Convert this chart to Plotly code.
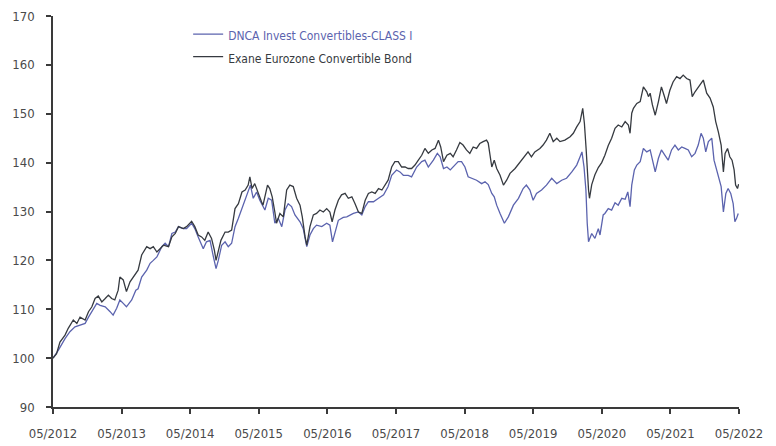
import plotly.graph_objects as go

# ---- Data ----
exane_dates = [
    "2012-05-01","2012-05-20","2012-06-07","2012-07-04","2012-07-21","2012-08-17","2012-09-05","2012-09-22",
    "2012-10-19","2012-11-06","2012-11-24","2012-12-11","2012-12-28","2013-01-16","2013-02-03","2013-02-20",
    "2013-03-09","2013-03-26","2013-04-13","2013-04-22","2013-05-10","2013-05-27","2013-06-15","2013-07-11",
    "2013-07-28","2013-08-16","2013-09-12","2013-09-30","2013-10-17","2013-11-05","2013-11-22","2013-12-10",
    "2014-01-06","2014-01-24","2014-02-11","2014-02-28","2014-03-25","2014-04-12","2014-05-09","2014-05-26",
    "2014-06-13","2014-07-01","2014-07-18","2014-08-05","2014-08-23","2014-09-07","2014-09-16","2014-09-28",
    "2014-10-12","2014-11-03","2014-11-20","2014-12-08","2014-12-26","2015-01-13","2015-02-01","2015-02-18",
    "2015-03-06","2015-03-15","2015-03-27","2015-04-10","2015-04-28","2015-05-16","2015-05-24","2015-06-07",
    "2015-06-17","2015-06-29","2015-07-12","2015-07-26","2015-08-04","2015-08-22","2015-09-09","2015-09-27",
    "2015-10-14","2015-11-01","2015-11-19","2015-12-07","2015-12-19","2016-01-03","2016-01-12","2016-01-29",
    "2016-02-16","2016-03-04","2016-03-22","2016-04-09","2016-04-27","2016-05-14","2016-05-26","2016-06-10",
    "2016-06-28","2016-07-15","2016-08-03","2016-08-20","2016-09-08","2016-09-25","2016-10-13","2016-10-31",
    "2016-11-18","2016-12-05","2016-12-23","2017-01-10","2017-01-28","2017-02-15","2017-03-03","2017-03-20",
    "2017-04-08","2017-04-25","2017-05-13","2017-05-31","2017-06-18","2017-07-05","2017-07-23","2017-08-10",
    "2017-08-28","2017-09-15","2017-10-02","2017-10-20","2017-11-08","2017-11-25","2017-12-13","2017-12-25",
    "2018-01-09","2018-01-27","2018-02-14","2018-03-01","2018-03-19","2018-04-06","2018-04-23","2018-05-11",
    "2018-05-29","2018-06-16","2018-07-04","2018-07-21","2018-08-08","2018-08-26","2018-09-04","2018-09-14",
    "2018-09-23","2018-10-06","2018-10-19","2018-11-06","2018-11-24","2018-12-11","2018-12-29","2019-01-25",
    "2019-02-21","2019-03-17","2019-04-04","2019-04-22","2019-05-10","2019-06-06","2019-06-23","2019-07-11",
    "2019-07-29","2019-08-16","2019-09-04","2019-09-21","2019-10-17","2019-11-14","2019-12-01","2019-12-19",
    "2020-01-06","2020-01-20","2020-01-29","2020-02-07","2020-02-13","2020-02-20","2020-02-25","2020-03-08",
    "2020-03-25","2020-04-12","2020-04-30","2020-05-17","2020-06-04","2020-06-22","2020-07-10","2020-07-27",
    "2020-08-15","2020-09-02","2020-09-19","2020-09-28","2020-10-07","2020-10-16","2020-11-03","2020-11-21",
    "2020-12-08","2020-12-26","2021-01-04","2021-01-13","2021-01-25","2021-02-09","2021-02-26","2021-03-14",
    "2021-03-28","2021-04-10","2021-04-28","2021-05-15","2021-06-03","2021-06-21","2021-07-08","2021-07-26",
    "2021-08-13","2021-08-25","2021-09-09","2021-09-26","2021-10-11","2021-10-23","2021-11-10","2021-11-28",
    "2021-12-15","2021-12-28","2022-01-11","2022-01-26","2022-02-07","2022-02-16","2022-03-01","2022-03-13",
    "2022-03-25","2022-04-05","2022-04-13","2022-04-23","2022-04-29",
]
exane_values = [
    100.0,100.9,103.3,104.7,106.1,107.8,107.1,108.4,
    107.8,109.5,110.5,112.2,112.7,111.5,112.2,112.9,
    112.2,111.9,113.9,116.6,116.0,113.6,115.6,117.0,
    118.0,121.1,122.8,122.4,122.8,121.7,122.4,123.1,
    122.8,124.8,125.5,126.9,126.5,126.9,128.0,126.9,
    125.2,124.8,124.1,125.8,124.5,122.1,120.0,121.7,
    124.1,125.8,125.8,126.2,130.6,131.6,134.0,134.4,
    135.4,137.1,134.7,135.7,133.7,132.0,131.3,133.7,
    135.4,134.7,133.0,129.9,127.6,129.6,128.9,134.4,
    135.4,135.1,132.7,131.3,128.9,124.8,123.1,126.9,
    129.3,129.6,130.3,129.9,130.6,129.9,127.9,130.3,
    132.3,133.4,133.7,132.7,133.0,131.6,129.9,129.6,
    132.3,133.7,134.0,133.7,134.7,134.4,135.4,136.4,
    139.1,140.2,140.2,139.1,139.1,138.8,138.8,139.5,
    140.5,141.5,142.9,141.9,142.6,142.9,144.6,143.2,
    140.2,141.5,141.9,141.2,142.6,144.1,143.6,142.6,
    141.9,143.2,142.9,143.9,144.3,144.6,144.0,141.2,
    139.1,140.5,138.8,137.4,135.4,136.4,137.8,138.8,
    140.2,141.5,142.2,141.2,142.2,142.9,143.6,144.6,
    146.0,144.3,145.0,144.3,144.6,145.3,146.0,147.3,
    148.4,151.1,148.0,142.9,138.5,134.4,132.7,135.5,
    137.5,139.0,140.0,141.5,143.5,145.0,147.0,147.7,
    147.3,148.4,147.7,146.0,150.1,151.1,152.1,152.5,
    155.5,154.5,153.5,154.2,151.8,149.7,152.5,155.5,
    153.8,152.1,154.8,156.5,157.6,157.2,157.9,157.2,
    156.9,153.5,154.5,155.5,156.2,156.9,154.2,153.2,
    151.4,148.4,146.3,143.6,138.1,141.9,142.9,141.2,
    140.5,138.5,135.4,134.7,135.6,
]

dnca_dates = [
    "2012-05-01","2012-05-29","2012-07-04","2012-07-30","2012-08-26","2012-09-22","2012-10-19","2012-11-06",
    "2012-11-24","2012-12-20","2013-01-07","2013-02-03","2013-03-01","2013-03-17","2013-04-05","2013-04-22",
    "2013-05-10","2013-05-27","2013-06-24","2013-07-16","2013-07-28","2013-08-16","2013-09-12","2013-09-30",
    "2013-10-17","2013-11-05","2013-12-01","2013-12-19","2014-01-06","2014-01-24","2014-02-11","2014-02-28",
    "2014-03-25","2014-04-12","2014-05-09","2014-05-26","2014-06-13","2014-07-10","2014-07-27","2014-08-15",
    "2014-09-02","2014-09-16","2014-09-28","2014-10-16","2014-11-03","2014-11-20","2014-12-08","2014-12-26",
    "2015-01-13","2015-02-01","2015-02-18","2015-03-06","2015-03-18","2015-04-02","2015-04-20","2015-05-07",
    "2015-06-03","2015-06-21","2015-07-09","2015-07-26","2015-08-13","2015-09-01","2015-09-18","2015-10-05",
    "2015-10-23","2015-11-10","2015-12-07","2015-12-24","2016-01-12","2016-01-29","2016-02-16","2016-03-04",
    "2016-04-01","2016-04-27","2016-05-14","2016-05-28","2016-06-10","2016-06-28","2016-07-24","2016-08-12",
    "2016-09-16","2016-10-13","2016-10-31","2016-11-18","2016-12-05","2017-01-01","2017-01-28","2017-02-24",
    "2017-03-20","2017-04-08","2017-05-04","2017-05-22","2017-06-09","2017-07-05","2017-07-23","2017-08-19",
    "2017-09-15","2017-10-02","2017-10-20","2017-11-16","2017-12-07","2017-12-22","2018-01-09","2018-01-27",
    "2018-02-14","2018-03-01","2018-03-28","2018-04-15","2018-05-03","2018-05-20","2018-06-08","2018-07-04",
    "2018-07-31","2018-08-18","2018-09-04","2018-09-23","2018-10-06","2018-10-19","2018-11-06","2018-11-29",
    "2018-12-20","2019-01-16","2019-02-12","2019-03-09","2019-03-26","2019-04-14","2019-05-01","2019-05-19",
    "2019-06-15","2019-07-11","2019-08-08","2019-09-04","2019-09-30","2019-10-26","2019-11-23","2019-12-19",
    "2020-01-06","2020-01-16","2020-01-27","2020-02-06","2020-02-13","2020-02-20","2020-03-08","2020-03-25",
    "2020-04-12","2020-04-21","2020-05-08","2020-05-17","2020-06-04","2020-06-22","2020-07-10","2020-07-27",
    "2020-08-15","2020-09-02","2020-09-16","2020-09-28","2020-10-07","2020-10-21","2020-11-03","2020-11-21",
    "2020-12-08","2020-12-26","2021-01-13","2021-01-25","2021-02-09","2021-02-26","2021-03-14","2021-04-02",
    "2021-04-19","2021-05-07","2021-05-25","2021-06-12","2021-06-30","2021-07-17","2021-08-04","2021-08-22",
    "2021-09-09","2021-09-26","2021-10-11","2021-10-23","2021-11-05","2021-11-19","2021-12-07","2021-12-19",
    "2021-12-30","2022-01-11","2022-01-26","2022-02-07","2022-02-20","2022-03-04","2022-03-18","2022-03-31",
    "2022-04-09","2022-04-18","2022-04-27",
]
dnca_values = [
    100.0,101.6,104.0,105.4,106.4,106.7,107.1,108.4,
    109.5,111.2,110.8,110.5,109.5,108.8,110.2,111.9,
    111.2,110.5,111.9,113.9,114.2,116.6,118.0,119.4,
    120.0,120.7,122.8,123.5,122.8,125.5,125.8,126.9,
    126.5,126.5,127.6,126.5,124.8,122.4,123.8,124.1,
    120.7,118.3,120.0,123.1,123.8,122.8,123.5,126.9,
    128.6,130.6,132.3,133.7,135.4,132.7,134.0,132.3,
    130.3,132.7,132.3,127.6,128.6,126.9,130.3,131.6,
    131.0,129.3,127.9,126.5,122.8,125.2,126.5,127.2,
    126.9,127.6,127.2,123.8,125.8,128.2,128.8,128.9,
    129.6,129.9,129.3,131.0,132.0,132.0,132.7,133.4,
    135.1,137.4,138.5,138.1,137.4,137.4,137.1,139.1,
    140.2,140.5,139.1,140.5,141.9,141.2,138.8,139.1,
    138.5,139.1,140.2,140.2,139.1,137.1,136.8,136.4,
    135.7,136.1,135.5,133.7,133.0,131.3,129.6,127.6,
    128.9,131.3,132.7,134.7,135.4,134.4,132.3,133.7,
    134.4,135.4,136.8,135.7,136.4,136.8,138.1,139.5,
    141.2,142.2,139.1,134.4,127.6,123.8,125.5,124.5,
    126.5,125.2,129.3,129.6,130.6,130.3,131.8,131.3,
    132.7,132.5,134.0,131.0,135.4,138.5,139.5,140.2,
    142.9,142.2,142.6,140.5,138.1,140.9,142.6,141.5,
    140.5,142.6,143.6,142.6,143.2,142.9,142.6,141.2,
    141.9,143.6,146.0,145.0,142.2,144.3,145.0,140.5,
    138.8,137.4,135.1,129.9,133.7,134.7,133.7,131.6,
    127.9,128.6,129.6,
]

series_names = ["DNCA Invest Convertibles-CLASS I", "Exane Eurozone Convertible Bond"]
tick_dates = ["2012-05-01","2013-05-01","2014-05-01","2015-05-01","2016-05-01","2017-05-01",
              "2018-05-01","2019-05-01","2020-05-01","2021-05-01","2022-05-01"]
tick_labels = ["05/2012","05/2013","05/2014","05/2015","05/2016","05/2017",
               "05/2018","05/2019","05/2020","05/2021","05/2022"]
y_ticks = [90, 100, 110, 120, 130, 140, 150, 160, 170]

BLUE = "#5b63ae"
DARK = "#363a40"
AXIS = "#3a3a3a"
FONT = "DejaVu Sans Condensed, Roboto, sans-serif"

fig = go.Figure()
fig.add_trace(go.Scatter(
    x=dnca_dates, y=dnca_values, mode="lines",
    name=f"<span style='color:{BLUE};font-size:12px'>{series_names[0]}</span>",
    line=dict(color=BLUE, width=1.3),
))
fig.add_trace(go.Scatter(
    x=exane_dates, y=exane_values, mode="lines",
    name=f"<span style='color:{DARK};font-size:12px'>{series_names[1]}</span>",
    line=dict(color=DARK, width=1.3),
))

axis_common = dict(
    showline=True, linecolor=AXIS, linewidth=1.6,
    ticks="outside", ticklen=5, tickwidth=1.5, tickcolor=AXIS,
    showgrid=False, zeroline=False, automargin=False,
    tickfont=dict(family=FONT, size=13, color="#4a4a4a"),
)

# The page body has an 8px default margin, so the figure is sized to fill the
# remaining 768x438 area of the 776x446 window.
fig.update_layout(
    width=768, height=438,
    margin=dict(l=45, r=37, t=8, b=39, autoexpand=False),
    paper_bgcolor="white", plot_bgcolor="white",
    font=dict(family=FONT, size=13, color="#4a4a4a"),
    showlegend=True,
    legend=dict(
        x=0.197, y=0.995, xanchor="left", yanchor="top",
        bgcolor="rgba(0,0,0,0)", borderwidth=0,
        font=dict(family=FONT, size=15),
        tracegroupgap=0,
    ),
    xaxis=dict(
        type="date", range=["2012-05-01", "2022-05-01"],
        tickmode="array", tickvals=tick_dates, ticktext=tick_labels,
        ticklabelstandoff=9,
        **axis_common,
    ),
    yaxis=dict(
        range=[90, 170], tickmode="array", tickvals=y_ticks,
        ticklabelstandoff=9,
        **axis_common,
    ),
)

fig.write_html("out.html")
